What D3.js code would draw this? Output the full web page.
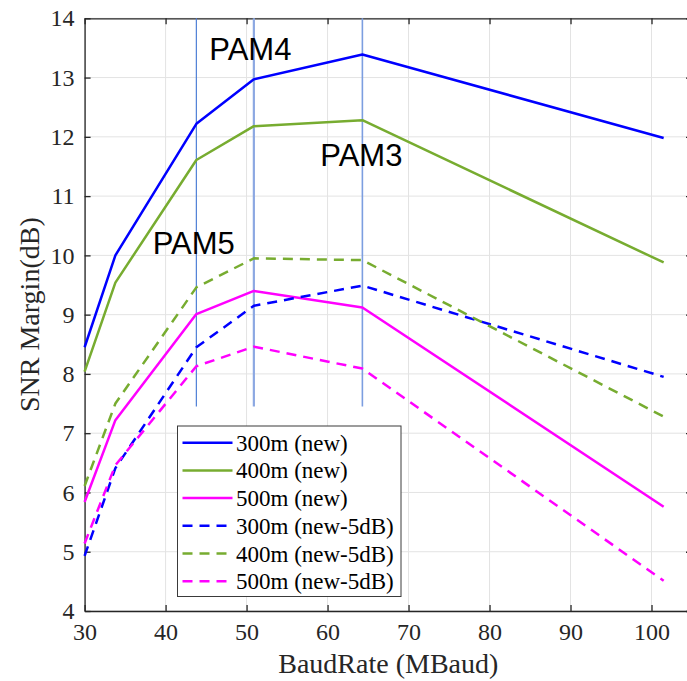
<!DOCTYPE html>
<html>
<head>
<meta charset="utf-8">
<script src="https://cdn.jsdelivr.net/npm/d3@7"></script>
<style>
  html, body { margin: 0; padding: 0; background: #fff; }
  svg { display: block; }
</style>
</head>
<body>
<svg id="chart" width="687" height="681"></svg>
<script>
// Baud rates (MBaud) at which the SNR margin was evaluated
const baudRates = [30, 33.8, 43.8, 50.9, 64.3, 101.5];

// SNR margin (dB) per cable length
const snr300 = [8.45, 10.0, 12.22, 12.97, 13.39, 11.98];
const snr400 = [8.04, 9.54, 11.61, 12.18, 12.28, 9.88];
const snr500 = [5.84, 7.22, 9.01, 9.40, 9.12, 5.76];
const snr300m5 = [4.93, 6.41, 8.45, 9.15, 9.49, 7.95];
const snr400m5 = [6.11, 7.50, 9.46, 9.95, 9.92, 7.28];
const snr500m5 = [5.14, 6.46, 8.13, 8.46, 8.09, 4.51];

const seriesNames = ["300m (new)", "400m (new)", "500m (new)",
                     "300m (new-5dB)", "400m (new-5dB)", "500m (new-5dB)"];

// Modulation boundaries and their labels
const pamRates = [43.8, 50.9, 64.3];
const pamLabels = ["PAM5", "PAM4", "PAM3"];
const pamLabelPos = [[38.4, 10.02], [45.4, 13.30], [59.1, 11.50]];
const pamLineBottom = 7.45;

const xTicks = [30, 40, 50, 60, 70, 80, 90, 100];
const yTicks = [4, 5, 6, 7, 8, 9, 10, 11, 12, 13, 14];

const series = [
  { name: seriesNames[0], values: snr300,   color: "#0000FF", dashed: false },
  { name: seriesNames[1], values: snr400,   color: "#77AC30", dashed: false },
  { name: seriesNames[2], values: snr500,   color: "#FF00FF", dashed: false },
  { name: seriesNames[3], values: snr300m5, color: "#0000FF", dashed: true },
  { name: seriesNames[4], values: snr400m5, color: "#77AC30", dashed: true },
  { name: seriesNames[5], values: snr500m5, color: "#FF00FF", dashed: true }
];

const svg = d3.select("#chart");
const plotLeft = 84.6, plotRight = 692, plotTop = 18.3, plotBottom = 611;

const x = d3.scaleLinear().domain([30, 105]).range([plotLeft, plotRight]);
const y = d3.scaleLinear().domain([4, 14]).range([plotBottom, plotTop]);

const axisColor = "#262626";
const serif = "'Liberation Serif', 'Times New Roman', serif";
const sans = "'Liberation Sans', Arial, sans-serif";

// grid
const grid = svg.append("g");
grid.selectAll("line.gx").data(xTicks).join("line")
  .attr("class", "gx")
  .attr("x1", d => x(d)).attr("x2", d => x(d))
  .attr("y1", plotTop).attr("y2", plotBottom)
  .attr("stroke", "#e3e3e3").attr("stroke-width", 1);
grid.selectAll("line.gy").data(yTicks).join("line")
  .attr("class", "gy")
  .attr("x1", plotLeft).attr("x2", plotRight)
  .attr("y1", d => y(d)).attr("y2", d => y(d))
  .attr("stroke", "#e3e3e3").attr("stroke-width", 1);

// axes (ticks pointing inward)
const xAxisBottom = d3.axisBottom(x).tickValues(xTicks).tickSizeInner(-6).tickSizeOuter(0).tickPadding(12);
const xAxisTop = d3.axisTop(x).tickValues(xTicks).tickSizeInner(-6).tickSizeOuter(0).tickFormat("");
const yAxisLeft = d3.axisLeft(y).tickValues(yTicks).tickSizeInner(-6).tickSizeOuter(0).tickPadding(10);
const yAxisRight = d3.axisRight(y).tickValues(yTicks).tickSizeInner(-6).tickSizeOuter(0).tickFormat("");

function styleAxis(g) {
  g.select(".domain").attr("stroke", axisColor).attr("stroke-width", 1.3);
  g.selectAll(".tick line").attr("stroke", axisColor).attr("stroke-width", 1.3);
  g.selectAll(".tick text").attr("fill", axisColor)
    .style("font-family", serif).style("font-size", "24px");
}

svg.append("g").attr("transform", `translate(0,${plotBottom})`).call(xAxisBottom).call(styleAxis);
svg.append("g").attr("transform", `translate(0,${plotTop})`).call(xAxisTop).call(styleAxis);
svg.append("g").attr("transform", `translate(${plotLeft},0)`).call(yAxisLeft).call(styleAxis);
svg.append("g").attr("transform", `translate(${plotRight},0)`).call(yAxisRight).call(styleAxis);

// modulation boundary markers
const pamStyles = [
  { color: "#4F7FD6", width: 1.2 },
  { color: "#8CA8E2", width: 2.2 },
  { color: "#7C9EE0", width: 1.6 }
];
svg.append("g").selectAll("line").data(pamRates).join("line")
  .attr("x1", d => x(d)).attr("x2", d => x(d))
  .attr("y1", y(14)).attr("y2", y(pamLineBottom))
  .attr("stroke", (d, i) => pamStyles[i].color)
  .attr("stroke-width", (d, i) => pamStyles[i].width);

// data lines
const line = d3.line().x((d, i) => x(baudRates[i])).y(d => y(d));
svg.append("g").selectAll("path").data(series).join("path")
  .attr("d", d => line(d.values))
  .attr("fill", "none")
  .attr("stroke", d => d.color)
  .attr("stroke-width", 2.5)
  .attr("stroke-dasharray", d => d.dashed ? "10,7" : null)
  .attr("stroke-linejoin", "round");

// modulation labels
svg.append("g").selectAll("text").data(pamLabels).join("text")
  .attr("x", (d, i) => x(pamLabelPos[i][0]))
  .attr("y", (d, i) => y(pamLabelPos[i][1]))
  .text(d => d)
  .style("font-family", sans).style("font-size", "31px").attr("fill", "#000");

// axis titles
svg.append("text")
  .attr("x", (plotLeft + plotRight) / 2).attr("y", 673)
  .attr("text-anchor", "middle")
  .style("font-family", serif).style("font-size", "28px").attr("fill", axisColor)
  .text("BaudRate (MBaud)");
svg.append("text")
  .attr("transform", `translate(39,${(plotTop + plotBottom) / 2}) rotate(-90)`)
  .attr("text-anchor", "middle")
  .style("font-family", serif).style("font-size", "28px").attr("fill", axisColor)
  .text("SNR Margin(dB)");

// legend
const lg = svg.append("g").attr("transform", "translate(177.5,426)");
lg.append("rect").attr("width", 223.5).attr("height", 170.5)
  .attr("fill", "#fff").attr("stroke", "#3a3a3a").attr("stroke-width", 1);
const rowH = 27.7;
const items = lg.selectAll("g.item").data(series).join("g")
  .attr("class", "item")
  .attr("transform", (d, i) => `translate(0,${16.7 + i * rowH})`);
items.append("line")
  .attr("x1", 5).attr("x2", 55).attr("y1", 0).attr("y2", 0)
  .attr("stroke", d => d.color).attr("stroke-width", 2.5)
  .attr("stroke-dasharray", d => d.dashed ? "10,7" : null);
items.append("text")
  .attr("x", 58.5).attr("y", 8)
  .style("font-family", serif).style("font-size", "23px").attr("fill", "#000")
  .text(d => d.name);
</script>
</body>
</html>
